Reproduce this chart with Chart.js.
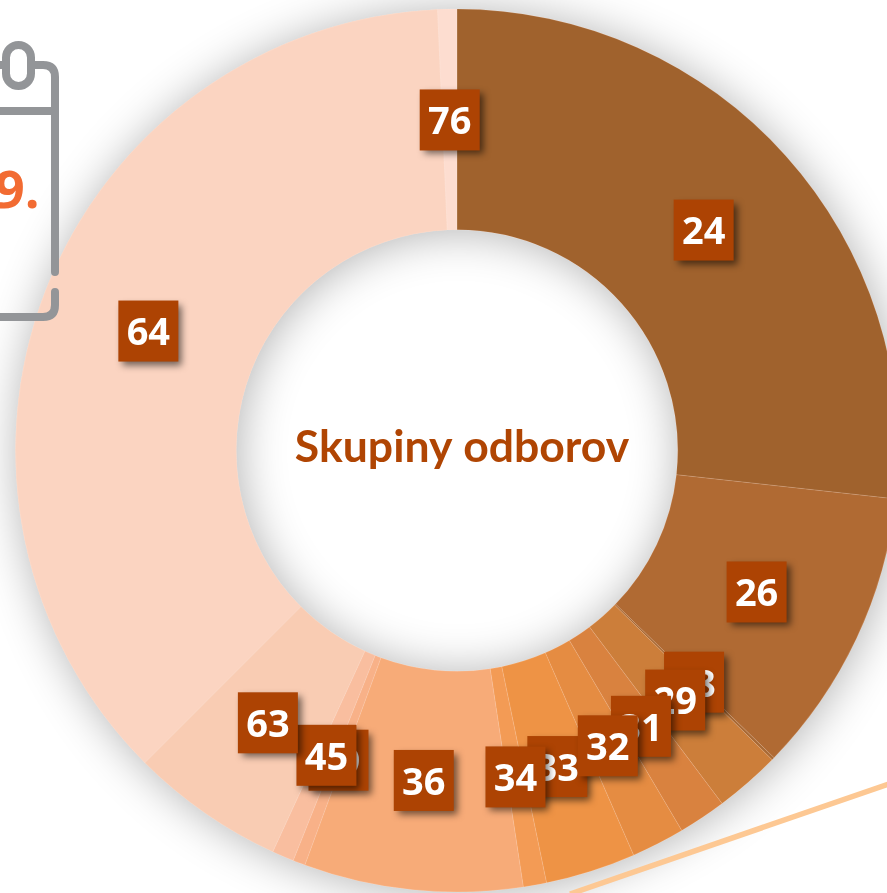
<!DOCTYPE html>
<html>
<head>
<meta charset="utf-8">
<script src="https://cdn.jsdelivr.net/npm/chart.js@4/dist/chart.umd.min.js"></script>
<style>
html,body{margin:0;padding:0;background:#fff;}
#stage{position:relative;width:887px;height:893px;overflow:hidden;}
#c{position:absolute;left:0;top:0;}
#deco{position:absolute;left:0;top:0;pointer-events:none;}
</style>
</head>
<body>
<div id="stage">
<canvas id="c" width="914" height="901"></canvas>
<svg id="deco" width="887" height="893" viewBox="0 0 887 893">
  <line x1="890" y1="783.5" x2="570" y2="894" stroke="#FDC893" stroke-width="5.5"/>
  <g fill="none" stroke="#939598" stroke-width="8" stroke-linecap="round">
    <path d="M0 65 H43 Q55 65 55 77 V272"/>
    <path d="M55 292 V305 Q55 317 43 317 H-5"/>
    <path d="M-5 111 H55" stroke-linecap="butt"/>
    <rect x="6" y="45" width="25" height="41" rx="12.5" fill="#fff"/>
  </g>
  <text x="39.5" y="208" text-anchor="end" font-family="'Open Sans',sans-serif" font-weight="700" font-size="52" fill="#F26B32">9.</text>
</svg>
</div>
<script>
const categories = ["24","26","28","29","31","32","33","34","36","39","45","63","64","76"];
const shares = [26.75,10.5,0.1,2.4,1.75,1.95,3.3,0.85,8.0,0.45,0.8,5.65,36.8,0.7];
const sliceColors = ["#A0622D","#B06A33","#A96A35","#CC7E3A","#D9823F","#E58C42","#EE9345","#F39B55","#F7AB78","#F8B188","#F9BE9F","#F9CCB3","#FBD4C1","#FDDDD0"];
const labelOrder = ["24","26","28","29","33","31","32","34","36","39","45","63","64","76"];
const centerTitle = "Skupiny odborov";

const ringShadow = {
  id:"ringShadow",
  beforeDatasetsDraw(chart){
    const a = chart.getDatasetMeta(0).data[0];
    const ctx = chart.ctx;
    ctx.save();
    ctx.shadowColor = "rgba(0,0,0,0.30)";
    ctx.shadowBlur = 46;
    ctx.shadowOffsetX = 2;
    ctx.shadowOffsetY = 2;
    ctx.fillStyle = "#FBD4C1";
    ctx.beginPath();
    ctx.arc(a.x,a.y,a.outerRadius,0,Math.PI*2);
    ctx.arc(a.x,a.y,a.innerRadius,0,Math.PI*2,true);
    ctx.closePath();
    ctx.fill();
    ctx.restore();
  }
};

const boxLabels = {
  id:"boxLabels",
  afterDatasetsDraw(chart){
    const arcs = chart.getDatasetMeta(0).data;
    const ctx = chart.ctx;
    const first = arcs[0];
    ctx.save();
    ctx.textAlign = "center";
    ctx.textBaseline = "middle";
    ctx.font = "700 38px 'Open Sans',sans-serif";
    labelOrder.forEach(t=>{
      const el = arcs[categories.indexOf(t)];
      const p = el.getCenterPoint();
      ctx.save();
      ctx.shadowColor = "rgba(0,0,0,0.55)";
      ctx.shadowBlur = 7;
      ctx.shadowOffsetX = 4;
      ctx.shadowOffsetY = 4;
      ctx.fillStyle = "#AD4303";
      ctx.fillRect(p.x-30,p.y-30,60,61);
      ctx.restore();
      ctx.fillStyle = "#fff";
      ctx.fillText(t,p.x,p.y+4);
    });
    ctx.fillStyle = "#B04503";
    ctx.font = "700 44.5px Lato,sans-serif";
    ctx.fillText(centerTitle,first.x+5,first.y-3);
    ctx.restore();
  }
};

new Chart(document.getElementById("c"),{
  type:"doughnut",
  data:{labels:categories,datasets:[{
    data:shares,
    backgroundColor:sliceColors,
    borderColor:"rgba(255,255,255,0.12)",
    borderWidth:1,
    radius:441.5,
    cutout:"50%"
  }]},
  options:{
    responsive:false,
    animation:false,
    devicePixelRatio:1,
    layout:{padding:0},
    plugins:{legend:{display:false},tooltip:{enabled:false}}
  },
  plugins:[ringShadow,boxLabels]
});
</script>
</body>
</html>
